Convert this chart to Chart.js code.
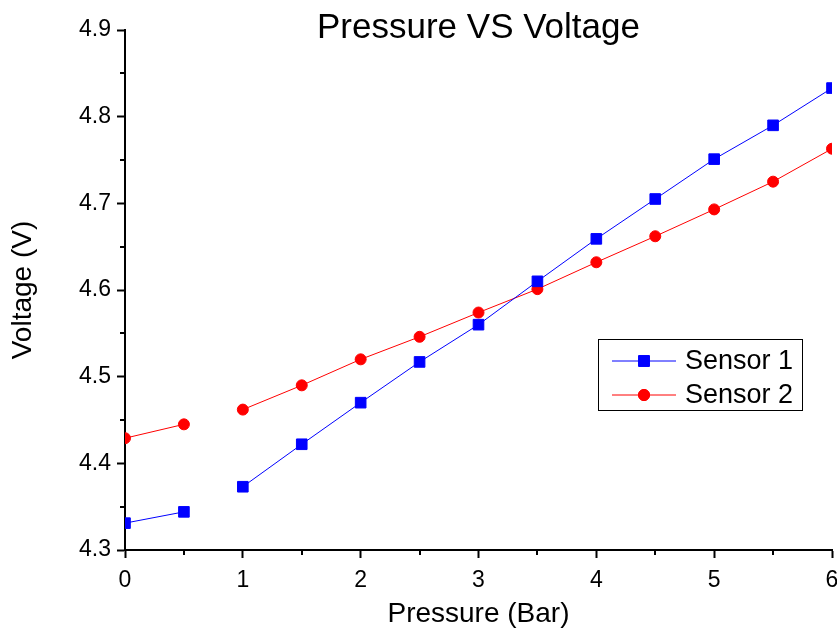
<!DOCTYPE html>
<html>
<head>
<meta charset="utf-8">
<script src="https://cdn.jsdelivr.net/npm/chart.js@4.4.0/dist/chart.umd.min.js"></script>
<style>
  html, body { margin: 0; padding: 0; background: #fff; overflow: hidden; }
  #wrap { width: 837px; height: 637px; }
</style>
</head>
<body>
<div id="wrap"><canvas id="chart" width="837" height="637"></canvas></div>
<script>
// data (0.75 has no reading, so the line breaks there)
const pressure = [0, 0.5, 0.75, 1, 1.5, 2, 2.5, 3, 3.5, 4, 4.5, 5, 5.5, 6];
const sensor1 = [4.331, 4.344, null, 4.373, 4.422, 4.470, 4.517, 4.560, 4.610, 4.659, 4.705, 4.751, 4.790, 4.833];
const sensor2 = [4.429, 4.445, null, 4.462, 4.490, 4.520, 4.546, 4.574, 4.601, 4.632, 4.662, 4.693, 4.725, 4.763];
const seriesNames = ['Sensor 1', 'Sensor 2'];
const chartTitle = 'Pressure VS Voltage';
const xTitle = 'Pressure (Bar)';
const yTitle = 'Voltage (V)';

const FONT = 'Liberation Sans, Arial, sans-serif';

const toPoints = (vals) => pressure.map((x, i) => ({ x: x, y: vals[i] }));

const isMajor = (v, step) => Math.abs(v / step - Math.round(v / step)) < 1e-6;

// title drawn over the plot top, like the original
const titlePlugin = {
  id: 'plotTitle',
  afterDraw(chart) {
    const { ctx, chartArea } = chart;
    ctx.save();
    ctx.font = '35px ' + FONT;
    ctx.fillStyle = '#000';
    ctx.textAlign = 'center';
    ctx.textBaseline = 'alphabetic';
    ctx.fillText(chartTitle, (chartArea.left + chartArea.right) / 2, 38);
    ctx.restore();
  }
};

// short minor ticks between the labelled ones
const minorTicks = {
  id: 'minorTicks',
  afterDraw(chart) {
    const { ctx } = chart;
    const xs = chart.scales.x, ys = chart.scales.y;
    ctx.save();
    ctx.strokeStyle = '#000';
    ctx.lineWidth = 2;
    ctx.beginPath();
    xs.ticks.forEach(t => {
      if (isMajor(t.value, 1)) return;
      const px = Math.round(xs.getPixelForValue(t.value));
      ctx.moveTo(px, xs.top);
      ctx.lineTo(px, xs.top + 5);
    });
    ys.ticks.forEach(t => {
      if (isMajor(t.value, 0.1)) return;
      const py = Math.round(ys.getPixelForValue(t.value));
      ctx.moveTo(ys.right, py);
      ctx.lineTo(ys.right - 5, py);
    });
    ctx.stroke();
    ctx.restore();
  }
};

// boxed legend inside the plot
const boxLegend = {
  id: 'boxLegend',
  afterDraw(chart) {
    const { ctx } = chart;
    const box = { x: 598.5, y: 339.5, w: 204, h: 71 };
    ctx.save();
    ctx.fillStyle = '#fff';
    ctx.fillRect(box.x, box.y, box.w, box.h);
    ctx.strokeStyle = '#000';
    ctx.lineWidth = 1;
    ctx.strokeRect(box.x, box.y, box.w, box.h);
    chart.data.datasets.forEach((ds, i) => {
      const cy = 361 + i * 34;
      ctx.strokeStyle = ds.borderColor;
      ctx.lineWidth = 1;
      ctx.beginPath();
      ctx.moveTo(612, cy);
      ctx.lineTo(676, cy);
      ctx.stroke();
      ctx.fillStyle = ds.backgroundColor;
      Chart.helpers.drawPoint(ctx, {
        pointStyle: ds.pointStyle,
        radius: ds.pointRadius,
        borderWidth: ds.pointBorderWidth,
        rotation: 0
      }, 644, cy);
      ctx.fill();
      ctx.stroke();
      ctx.fillStyle = '#000';
      ctx.font = '27px ' + FONT;
      ctx.textAlign = 'left';
      ctx.textBaseline = 'middle';
      ctx.fillText(ds.label, 685, cy + 1);
    });
    ctx.restore();
  }
};

const ctx = document.getElementById('chart').getContext('2d');
new Chart(ctx, {
  type: 'line',
  data: {
    datasets: [
      {
        label: seriesNames[0],
        data: toPoints(sensor1),
        borderColor: '#0000ff',
        backgroundColor: '#0000ff',
        borderWidth: 1,
        pointStyle: 'rect',
        pointRadius: 7.5,
        pointBorderWidth: 1,
        pointHoverRadius: 7.5,
        spanGaps: false
      },
      {
        label: seriesNames[1],
        data: toPoints(sensor2),
        borderColor: '#ff0000',
        backgroundColor: '#ff0000',
        borderWidth: 1,
        pointStyle: 'circle',
        pointRadius: 5.5,
        pointBorderWidth: 1,
        pointHoverRadius: 5.5,
        spanGaps: false
      }
    ]
  },
  options: {
    responsive: false,
    animation: false,
    events: [],
    layout: { autoPadding: false, padding: { top: 30, right: 5, left: 0, bottom: 0 } },
    plugins: {
      legend: { display: false },
      title: { display: false },
      tooltip: { enabled: false }
    },
    scales: {
      x: {
        type: 'linear',
        min: 0,
        max: 6,
        afterFit(scale) {
          scale.height = 87;
          scale.paddingLeft = 0;
          scale.paddingRight = 0;
        },
        afterBuildTicks(scale) {
          scale.ticks = [];
          for (let v = 0; v <= 6 + 1e-9; v += 0.5) scale.ticks.push({ value: Math.round(v * 10) / 10 });
        },
        border: { display: true, color: '#000', width: 2 },
        grid: {
          drawOnChartArea: false,
          drawTicks: true,
          tickLength: 8,
          tickWidth: 2,
          tickColor: (c) => (c.tick && isMajor(c.tick.value, 1)) ? '#000' : 'rgba(0,0,0,0)'
        },
        ticks: {
          autoSkip: false,
          maxRotation: 0,
          padding: 9,
          color: '#000',
          font: { family: FONT, size: 23 },
          callback: (v) => isMajor(v, 1) ? String(Math.round(v)) : ''
        },
        title: {
          display: true,
          text: xTitle,
          color: '#000',
          font: { family: FONT, size: 28 },
          padding: { top: 4, bottom: 6 }
        }
      },
      y: {
        type: 'linear',
        min: 4.3,
        max: 4.9,
        afterFit(scale) {
          scale.width = 125;
        },
        afterBuildTicks(scale) {
          scale.ticks = [];
          for (let i = 0; i <= 12; i++) scale.ticks.push({ value: Math.round((4.3 + i * 0.05) * 100) / 100 });
        },
        border: { display: true, color: '#000', width: 2 },
        grid: {
          drawOnChartArea: false,
          drawTicks: true,
          tickLength: 8,
          tickWidth: 2,
          tickColor: (c) => (c.tick && isMajor(c.tick.value, 0.1)) ? '#000' : 'rgba(0,0,0,0)'
        },
        ticks: {
          autoSkip: false,
          padding: 6,
          color: '#000',
          font: { family: FONT, size: 23 },
          callback: (v) => isMajor(v, 0.1) ? v.toFixed(1) : ''
        },
        title: {
          display: true,
          text: yTitle,
          color: '#000',
          font: { family: FONT, size: 28 },
          padding: { top: 6, bottom: 4 }
        }
      }
    }
  },
  plugins: [titlePlugin, minorTicks, boxLegend]
});
</script>
</body>
</html>
